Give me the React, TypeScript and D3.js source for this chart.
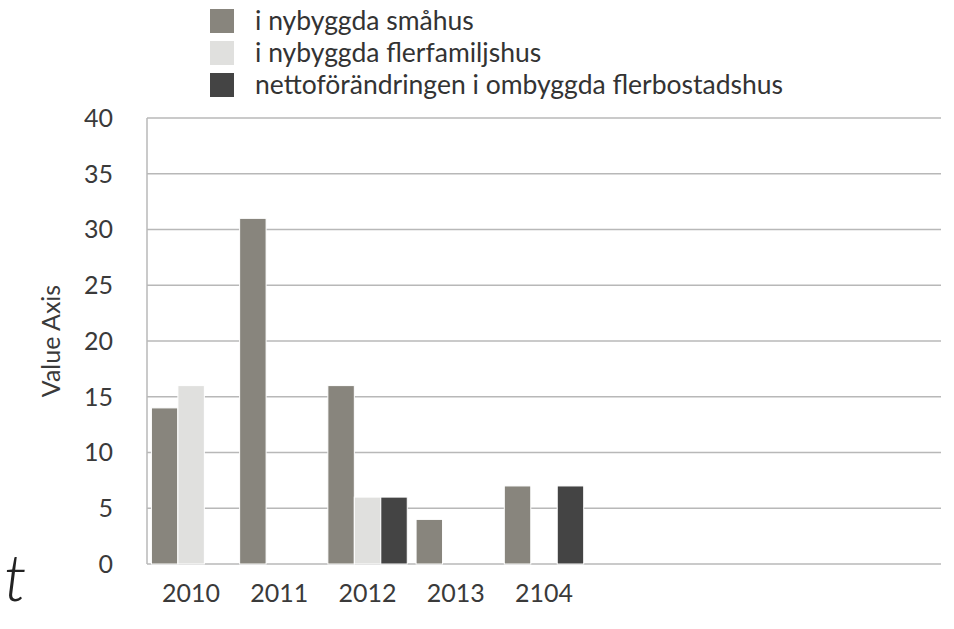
import * as d3 from "d3";

const categories = ["2010", "2011", "2012", "2013", "2104", "", "", "", ""];
const seriesNames = [
  "i nybyggda småhus",
  "i nybyggda flerfamiljshus",
  "nettoförändringen i ombyggda flerbostadshus",
];
const smahus = [14, 31, 16, 4, 7, 0, 0, 0, 0];
const flerfamiljshus = [16, 0, 6, 0, 0, 0, 0, 0, 0];
const ombyggda = [0, 0, 6, 0, 7, 0, 0, 0, 0];
const yTicks = [0, 5, 10, 15, 20, 25, 30, 35, 40];
const colors = ["#88857d", "#e0e0de", "#444444"];

const W = 954;
const H = 629;
const FONT = "Lato, 'Open Sans', sans-serif";

export default function App() {
  const series = [smahus, flerfamiljshus, ombyggda];
  const margin = { top: 118, right: 13, bottom: 65, left: 147 };

  const x = d3
    .scaleBand<number>()
    .domain(d3.range(categories.length))
    .range([margin.left, W - margin.right])
    .paddingInner(0.1)
    .paddingOuter(0.05);

  const xInner = d3
    .scaleBand<number>()
    .domain(d3.range(series.length))
    .range([0, x.bandwidth()]);

  const y = d3.scaleLinear().domain([0, 40]).range([H - margin.bottom, margin.top]);

  const x0 = margin.left;
  const x1 = W - margin.right;

  return (
    <svg
      width={W}
      height={H}
      style={{ position: "absolute", left: 0, top: 0, background: "#fff" }}
      fontFamily={FONT}
    >
      {/* legend */}
      {seriesNames.map((name, i) => (
        <g key={name} transform={`translate(210,${9 + i * 32})`}>
          <rect width={24} height={24} fill={colors[i]} />
          <text x={45} y={12} dy="0.35em" fontSize={26.5} fill="#333">
            {name}
          </text>
        </g>
      ))}

      {/* gridlines */}
      {yTicks.map((t) => (
        <line
          key={t}
          x1={x0}
          x2={x1}
          y1={y(t)}
          y2={y(t)}
          stroke="#b8b8b8"
          strokeWidth={1.5}
        />
      ))}
      <line x1={x0} x2={x0} y1={y(40)} y2={y(0)} stroke="#b8b8b8" strokeWidth={1.5} />

      {/* y tick labels */}
      {yTicks.map((t) => (
        <text
          key={t}
          x={113}
          y={y(t)}
          dy="0.35em"
          textAnchor="end"
          fontSize={25}
          fill="#3a3a3a"
        >
          {t}
        </text>
      ))}

      <text
        transform={`translate(51,${(y(0) + y(40)) / 2}) rotate(-90)`}
        textAnchor="middle"
        dy="0.35em"
        fontSize={25}
        fill="#3a3a3a"
      >
        Value Axis
      </text>

      {/* bars */}
      {categories.map((c, ci) =>
        series.map((vals, si) =>
          vals[ci] > 0 ? (
            <rect
              key={`${ci}-${si}`}
              x={(x(ci) ?? 0) + (xInner(si) ?? 0)}
              y={y(vals[ci])}
              width={xInner.bandwidth()}
              height={y(0) - y(vals[ci])}
              fill={colors[si]}
              stroke="#fff"
              strokeWidth={1}
            />
          ) : null
        )
      )}

      {/* x labels */}
      {categories.map((c, ci) => (
        <text
          key={ci}
          x={(x(ci) ?? 0) + x.bandwidth() / 2}
          y={593}
          dy="0.35em"
          textAnchor="middle"
          fontSize={25}
          fill="#3a3a3a"
        >
          {c}
        </text>
      ))}

      {/* stray glyph at the left edge */}
      <text x={4} y={601} fontSize={66} fontStyle="italic" fontWeight={300} fill="#222">
        t
      </text>
    </svg>
  );
}
